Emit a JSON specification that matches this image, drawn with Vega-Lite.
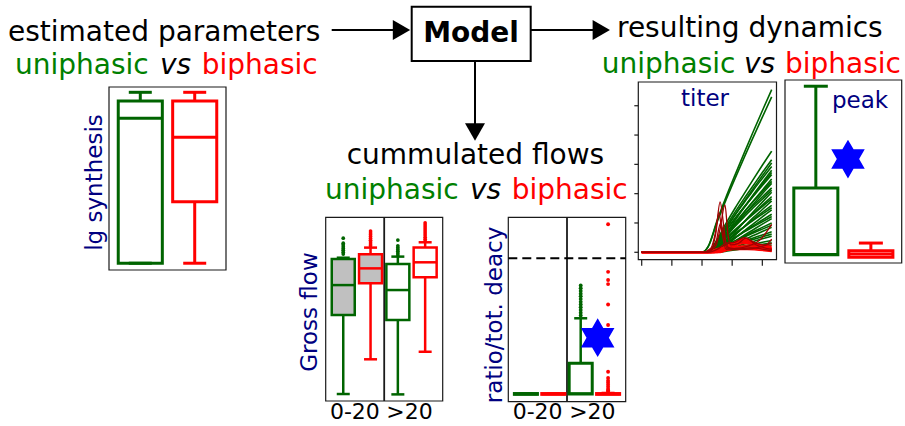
{
"$schema":"https://vega.github.io/schema/vega-lite/v6.json",
"width":905,"height":426,"padding":0,"autosize":{"type":"none"},
"background":"white",
"config":{"view":{"stroke":null},"font":"DejaVu Sans"},
"datasets":{
"diagram_text":[
{"text":"estimated parameters","role":"heading","x":8,"y":40.5},
{"text":"uniphasic","role":"uniphasic","x":15,"y":73.5},
{"text":"vs","role":"vs","x":160,"y":73.5},
{"text":"biphasic","role":"biphasic","x":201.7,"y":73.5},
{"text":"Model","role":"model","x":471,"y":41.7},
{"text":"resulting dynamics","role":"heading","x":617,"y":37},
{"text":"uniphasic","role":"uniphasic","x":601.7,"y":72.5},
{"text":"vs","role":"vs","x":744,"y":72.5},
{"text":"biphasic","role":"biphasic","x":785,"y":72.5},
{"text":"cummulated flows","role":"heading","x":346.7,"y":163.5},
{"text":"uniphasic","role":"uniphasic","x":325,"y":199},
{"text":"vs","role":"vs","x":470,"y":199},
{"text":"biphasic","role":"biphasic","x":511.7,"y":199},
{"text":"titer","role":"panel-title","x":705,"y":106},
{"text":"peak","role":"panel-title","x":860,"y":108},
{"text":"lg synthesis","role":"axis-title","x":102,"y":182.5},
{"text":"Gross flow","role":"axis-title","x":316.5,"y":312},
{"text":"ratio/tot. deacy","role":"axis-title","x":502,"y":315}
],
"diagram_box":[{"node":"Model","x":411.7,"x2":530.7,"y":6.7,"y2":61}],
"arrows":[
{"from":"estimated parameters","to":"Model","x":331.7,"y":30,"x2":394,"y2":30},
{"from":"Model","to":"resulting dynamics","x":531,"y":30,"x2":594,"y2":30},
{"from":"Model","to":"cummulated flows","x":475,"y":61,"x2":475,"y2":125}
],
"arrowheads":[
{"dir":"right","x":401.5,"y":30},
{"dir":"right","x":601.3,"y":30},
{"dir":"down","x":475,"y":132}
],
"frame":[{"frame":"panel"}],
"lg":[
{"series":"uniphasic","lower":0.37,"q1":0.37,"median":8.29,"q3":9.23,"upper":9.71},
{"series":"biphasic","lower":0.37,"q1":3.73,"median":7.25,"q3":9.23,"upper":9.71}
],
"gross":[
{"group":"0-20","series":"uniphasic","lower":0.38,"q1":4.68,"median":6.31,"q3":7.73,"upper":7.8},
{"group":"0-20","series":"biphasic","lower":2.27,"q1":6.41,"median":7.22,"q3":7.99,"upper":8.35},
{"group":">20","series":"uniphasic","lower":0.36,"q1":4.41,"median":6.04,"q3":7.46,"upper":7.86},
{"group":">20","series":"biphasic","lower":2.68,"q1":6.73,"median":7.55,"q3":8.35,"upper":8.64}
],
"gross_out":[
{"group":"0-20","series":"uniphasic","value":8.86},{"group":"0-20","series":"uniphasic","value":8.59},{"group":"0-20","series":"uniphasic","value":8.5},{"group":"0-20","series":"uniphasic","value":8.4},{"group":"0-20","series":"uniphasic","value":8.3},{"group":"0-20","series":"uniphasic","value":8.2},{"group":"0-20","series":"uniphasic","value":8.1},{"group":"0-20","series":"uniphasic","value":8.0},
{"group":"0-20","series":"biphasic","value":9.25},{"group":"0-20","series":"biphasic","value":9.15},{"group":"0-20","series":"biphasic","value":9.05},{"group":"0-20","series":"biphasic","value":8.95},{"group":"0-20","series":"biphasic","value":8.85},{"group":"0-20","series":"biphasic","value":8.75},{"group":"0-20","series":"biphasic","value":8.65},{"group":"0-20","series":"biphasic","value":8.55},{"group":"0-20","series":"biphasic","value":8.45},
{"group":">20","series":"uniphasic","value":8.76},{"group":">20","series":"uniphasic","value":8.45},{"group":">20","series":"uniphasic","value":8.35},{"group":">20","series":"uniphasic","value":8.25},{"group":">20","series":"uniphasic","value":8.15},{"group":">20","series":"uniphasic","value":8.05},{"group":">20","series":"uniphasic","value":7.95},
{"group":">20","series":"biphasic","value":9.69},{"group":">20","series":"biphasic","value":9.58},{"group":">20","series":"biphasic","value":9.47},{"group":">20","series":"biphasic","value":9.36},{"group":">20","series":"biphasic","value":9.25},{"group":">20","series":"biphasic","value":9.14},{"group":">20","series":"biphasic","value":9.03},{"group":">20","series":"biphasic","value":8.92},{"group":">20","series":"biphasic","value":8.81},{"group":">20","series":"biphasic","value":8.7}
],
"groups":[{"group":"0-20"},{"group":">20"}],
"ratio":[
{"group":"0-20","series":"uniphasic","lower":0,"q1":0,"median":0.002,"q3":0.006,"upper":0.006},
{"group":"0-20","series":"biphasic","lower":0,"q1":0,"median":0.002,"q3":0.006,"upper":0.006},
{"group":">20","series":"uniphasic","lower":0,"q1":0.003,"median":0.006,"q3":0.228,"upper":0.559},
{"group":">20","series":"biphasic","lower":0,"q1":0,"median":0.002,"q3":0.006,"upper":0.01}
],
"ratio_out":[
{"group":">20","series":"uniphasic","value":0.80},{"group":">20","series":"uniphasic","value":0.78},{"group":">20","series":"uniphasic","value":0.76},{"group":">20","series":"uniphasic","value":0.74},{"group":">20","series":"uniphasic","value":0.72},{"group":">20","series":"uniphasic","value":0.70},{"group":">20","series":"uniphasic","value":0.68},{"group":">20","series":"uniphasic","value":0.66},{"group":">20","series":"uniphasic","value":0.64},{"group":">20","series":"uniphasic","value":0.62},{"group":">20","series":"uniphasic","value":0.60},{"group":">20","series":"uniphasic","value":0.58},
{"group":">20","series":"biphasic","value":1.25},{"group":">20","series":"biphasic","value":0.90},{"group":">20","series":"biphasic","value":0.84},{"group":">20","series":"biphasic","value":0.81},{"group":">20","series":"biphasic","value":0.66},{"group":">20","series":"biphasic","value":0.51},{"group":">20","series":"biphasic","value":0.166},{"group":">20","series":"biphasic","value":0.12},{"group":">20","series":"biphasic","value":0.10},{"group":">20","series":"biphasic","value":0.085},{"group":">20","series":"biphasic","value":0.07},{"group":">20","series":"biphasic","value":0.055},{"group":">20","series":"biphasic","value":0.04},{"group":">20","series":"biphasic","value":0.03},{"group":">20","series":"biphasic","value":0.02},{"group":">20","series":"biphasic","value":0.01}
],
"ratio_star":[{"group":">20","ratio":0.416}],
"peak":[
{"series":"uniphasic","lower":0.45,"q1":0.45,"median":0.47,"q3":4.1,"upper":9.66},
{"series":"biphasic","lower":0.31,"q1":0.31,"median":0.49,"q3":0.67,"upper":1.09}
],
"peak_star":[{"series":"uniphasic","peak":5.68}],
"titer_yticks":[{"v":0},{"v":1},{"v":2},{"v":3},{"v":4},{"v":5}],
"titer_xticks":[{"v":0},{"v":1},{"v":2},{"v":3},{"v":4}],
"titer":[
{"sim":"u01","kind":"uniphasic","t":0,"titer":0},{"sim":"u01","kind":"uniphasic","t":2,"titer":0},{"sim":"u01","kind":"uniphasic","t":2.2,"titer":0.19},{"sim":"u01","kind":"uniphasic","t":2.5,"titer":1.08},{"sim":"u01","kind":"uniphasic","t":2.8,"titer":1.89},{"sim":"u01","kind":"uniphasic","t":3.1,"titer":2.65},{"sim":"u01","kind":"uniphasic","t":3.4,"titer":3.39},{"sim":"u01","kind":"uniphasic","t":3.7,"titer":4.12},{"sim":"u01","kind":"uniphasic","t":4,"titer":4.83},{"sim":"u01","kind":"uniphasic","t":4.31,"titer":5.55},
{"sim":"u02","kind":"uniphasic","t":0,"titer":0},{"sim":"u02","kind":"uniphasic","t":2,"titer":0},{"sim":"u02","kind":"uniphasic","t":2.2,"titer":0.18},{"sim":"u02","kind":"uniphasic","t":2.5,"titer":1.03},{"sim":"u02","kind":"uniphasic","t":2.8,"titer":1.8},{"sim":"u02","kind":"uniphasic","t":3.1,"titer":2.53},{"sim":"u02","kind":"uniphasic","t":3.4,"titer":3.24},{"sim":"u02","kind":"uniphasic","t":3.7,"titer":3.93},{"sim":"u02","kind":"uniphasic","t":4,"titer":4.61},{"sim":"u02","kind":"uniphasic","t":4.31,"titer":5.3},
{"sim":"u03","kind":"uniphasic","t":0,"titer":0},{"sim":"u03","kind":"uniphasic","t":2.2,"titer":0},{"sim":"u03","kind":"uniphasic","t":2.5,"titer":0.43},{"sim":"u03","kind":"uniphasic","t":2.8,"titer":0.99},{"sim":"u03","kind":"uniphasic","t":3.1,"titer":1.51},{"sim":"u03","kind":"uniphasic","t":3.4,"titer":2.0},{"sim":"u03","kind":"uniphasic","t":3.7,"titer":2.49},{"sim":"u03","kind":"uniphasic","t":4,"titer":2.97},{"sim":"u03","kind":"uniphasic","t":4.31,"titer":3.45},
{"sim":"u04","kind":"uniphasic","t":0,"titer":0},{"sim":"u04","kind":"uniphasic","t":2.2,"titer":0},{"sim":"u04","kind":"uniphasic","t":2.5,"titer":0.4},{"sim":"u04","kind":"uniphasic","t":2.8,"titer":0.9},{"sim":"u04","kind":"uniphasic","t":3.1,"titer":1.38},{"sim":"u04","kind":"uniphasic","t":3.4,"titer":1.84},{"sim":"u04","kind":"uniphasic","t":3.7,"titer":2.28},{"sim":"u04","kind":"uniphasic","t":4,"titer":2.72},{"sim":"u04","kind":"uniphasic","t":4.31,"titer":3.16},
{"sim":"u05","kind":"uniphasic","t":0,"titer":0},{"sim":"u05","kind":"uniphasic","t":2.2,"titer":0},{"sim":"u05","kind":"uniphasic","t":2.5,"titer":0.37},{"sim":"u05","kind":"uniphasic","t":2.8,"titer":0.84},{"sim":"u05","kind":"uniphasic","t":3.1,"titer":1.28},{"sim":"u05","kind":"uniphasic","t":3.4,"titer":1.7},{"sim":"u05","kind":"uniphasic","t":3.7,"titer":2.12},{"sim":"u05","kind":"uniphasic","t":4,"titer":2.52},{"sim":"u05","kind":"uniphasic","t":4.31,"titer":2.93},
{"sim":"u06","kind":"uniphasic","t":0,"titer":0},{"sim":"u06","kind":"uniphasic","t":2.2,"titer":0},{"sim":"u06","kind":"uniphasic","t":2.5,"titer":0.11},{"sim":"u06","kind":"uniphasic","t":2.8,"titer":0.62},{"sim":"u06","kind":"uniphasic","t":3.1,"titer":1.09},{"sim":"u06","kind":"uniphasic","t":3.4,"titer":1.53},{"sim":"u06","kind":"uniphasic","t":3.7,"titer":1.96},{"sim":"u06","kind":"uniphasic","t":4,"titer":2.38},{"sim":"u06","kind":"uniphasic","t":4.31,"titer":2.8},
{"sim":"u07","kind":"uniphasic","t":0,"titer":0},{"sim":"u07","kind":"uniphasic","t":2.2,"titer":0},{"sim":"u07","kind":"uniphasic","t":2.5,"titer":0.33},{"sim":"u07","kind":"uniphasic","t":2.8,"titer":0.76},{"sim":"u07","kind":"uniphasic","t":3.1,"titer":1.16},{"sim":"u07","kind":"uniphasic","t":3.4,"titer":1.54},{"sim":"u07","kind":"uniphasic","t":3.7,"titer":1.91},{"sim":"u07","kind":"uniphasic","t":4,"titer":2.28},{"sim":"u07","kind":"uniphasic","t":4.31,"titer":2.65},
{"sim":"u08","kind":"uniphasic","t":0,"titer":0},{"sim":"u08","kind":"uniphasic","t":2.2,"titer":0},{"sim":"u08","kind":"uniphasic","t":2.5,"titer":0.1},{"sim":"u08","kind":"uniphasic","t":2.8,"titer":0.56},{"sim":"u08","kind":"uniphasic","t":3.1,"titer":0.97},{"sim":"u08","kind":"uniphasic","t":3.4,"titer":1.37},{"sim":"u08","kind":"uniphasic","t":3.7,"titer":1.75},{"sim":"u08","kind":"uniphasic","t":4,"titer":2.12},{"sim":"u08","kind":"uniphasic","t":4.31,"titer":2.5},
{"sim":"u09","kind":"uniphasic","t":0,"titer":0},{"sim":"u09","kind":"uniphasic","t":2.2,"titer":0},{"sim":"u09","kind":"uniphasic","t":2.5,"titer":0.09},{"sim":"u09","kind":"uniphasic","t":2.8,"titer":0.52},{"sim":"u09","kind":"uniphasic","t":3.1,"titer":0.91},{"sim":"u09","kind":"uniphasic","t":3.4,"titer":1.28},{"sim":"u09","kind":"uniphasic","t":3.7,"titer":1.64},{"sim":"u09","kind":"uniphasic","t":4,"titer":2.0},{"sim":"u09","kind":"uniphasic","t":4.31,"titer":2.35},
{"sim":"u10","kind":"uniphasic","t":0,"titer":0},{"sim":"u10","kind":"uniphasic","t":2.2,"titer":0},{"sim":"u10","kind":"uniphasic","t":2.5,"titer":0.28},{"sim":"u10","kind":"uniphasic","t":2.8,"titer":0.63},{"sim":"u10","kind":"uniphasic","t":3.1,"titer":0.96},{"sim":"u10","kind":"uniphasic","t":3.4,"titer":1.28},{"sim":"u10","kind":"uniphasic","t":3.7,"titer":1.59},{"sim":"u10","kind":"uniphasic","t":4,"titer":1.89},{"sim":"u10","kind":"uniphasic","t":4.31,"titer":2.2},
{"sim":"u11","kind":"uniphasic","t":0,"titer":0},{"sim":"u11","kind":"uniphasic","t":2.5,"titer":0},{"sim":"u11","kind":"uniphasic","t":2.8,"titer":0.3},{"sim":"u11","kind":"uniphasic","t":3.1,"titer":0.68},{"sim":"u11","kind":"uniphasic","t":3.4,"titer":1.04},{"sim":"u11","kind":"uniphasic","t":3.7,"titer":1.38},{"sim":"u11","kind":"uniphasic","t":4,"titer":1.71},{"sim":"u11","kind":"uniphasic","t":4.31,"titer":2.05},
{"sim":"u12","kind":"uniphasic","t":0,"titer":0},{"sim":"u12","kind":"uniphasic","t":2.2,"titer":0},{"sim":"u12","kind":"uniphasic","t":2.5,"titer":0.07},{"sim":"u12","kind":"uniphasic","t":2.8,"titer":0.42},{"sim":"u12","kind":"uniphasic","t":3.1,"titer":0.74},{"sim":"u12","kind":"uniphasic","t":3.4,"titer":1.04},{"sim":"u12","kind":"uniphasic","t":3.7,"titer":1.33},{"sim":"u12","kind":"uniphasic","t":4,"titer":1.61},{"sim":"u12","kind":"uniphasic","t":4.31,"titer":1.9},
{"sim":"u13","kind":"uniphasic","t":0,"titer":0},{"sim":"u13","kind":"uniphasic","t":2.5,"titer":0},{"sim":"u13","kind":"uniphasic","t":2.8,"titer":0.25},{"sim":"u13","kind":"uniphasic","t":3.1,"titer":0.58},{"sim":"u13","kind":"uniphasic","t":3.4,"titer":0.88},{"sim":"u13","kind":"uniphasic","t":3.7,"titer":1.18},{"sim":"u13","kind":"uniphasic","t":4,"titer":1.46},{"sim":"u13","kind":"uniphasic","t":4.31,"titer":1.75},
{"sim":"u14","kind":"uniphasic","t":0,"titer":0},{"sim":"u14","kind":"uniphasic","t":2.2,"titer":0},{"sim":"u14","kind":"uniphasic","t":2.5,"titer":0.06},{"sim":"u14","kind":"uniphasic","t":2.8,"titer":0.36},{"sim":"u14","kind":"uniphasic","t":3.1,"titer":0.62},{"sim":"u14","kind":"uniphasic","t":3.4,"titer":0.87},{"sim":"u14","kind":"uniphasic","t":3.7,"titer":1.12},{"sim":"u14","kind":"uniphasic","t":4,"titer":1.36},{"sim":"u14","kind":"uniphasic","t":4.31,"titer":1.6},
{"sim":"u15","kind":"uniphasic","t":0,"titer":0},{"sim":"u15","kind":"uniphasic","t":2.5,"titer":0},{"sim":"u15","kind":"uniphasic","t":2.8,"titer":0.21},{"sim":"u15","kind":"uniphasic","t":3.1,"titer":0.48},{"sim":"u15","kind":"uniphasic","t":3.4,"titer":0.73},{"sim":"u15","kind":"uniphasic","t":3.7,"titer":0.97},{"sim":"u15","kind":"uniphasic","t":4,"titer":1.21},{"sim":"u15","kind":"uniphasic","t":4.31,"titer":1.45},
{"sim":"u16","kind":"uniphasic","t":0,"titer":0},{"sim":"u16","kind":"uniphasic","t":2.2,"titer":0},{"sim":"u16","kind":"uniphasic","t":2.5,"titer":0.05},{"sim":"u16","kind":"uniphasic","t":2.8,"titer":0.29},{"sim":"u16","kind":"uniphasic","t":3.1,"titer":0.5},{"sim":"u16","kind":"uniphasic","t":3.4,"titer":0.71},{"sim":"u16","kind":"uniphasic","t":3.7,"titer":0.91},{"sim":"u16","kind":"uniphasic","t":4,"titer":1.1},{"sim":"u16","kind":"uniphasic","t":4.31,"titer":1.3},
{"sim":"u17","kind":"uniphasic","t":0,"titer":0},{"sim":"u17","kind":"uniphasic","t":2.5,"titer":0},{"sim":"u17","kind":"uniphasic","t":2.8,"titer":0.17},{"sim":"u17","kind":"uniphasic","t":3.1,"titer":0.38},{"sim":"u17","kind":"uniphasic","t":3.4,"titer":0.58},{"sim":"u17","kind":"uniphasic","t":3.7,"titer":0.77},{"sim":"u17","kind":"uniphasic","t":4,"titer":0.96},{"sim":"u17","kind":"uniphasic","t":4.31,"titer":1.15},
{"sim":"u18","kind":"uniphasic","t":0,"titer":0},{"sim":"u18","kind":"uniphasic","t":2.2,"titer":0},{"sim":"u18","kind":"uniphasic","t":2.5,"titer":0.04},{"sim":"u18","kind":"uniphasic","t":2.8,"titer":0.22},{"sim":"u18","kind":"uniphasic","t":3.1,"titer":0.39},{"sim":"u18","kind":"uniphasic","t":3.4,"titer":0.55},{"sim":"u18","kind":"uniphasic","t":3.7,"titer":0.7},{"sim":"u18","kind":"uniphasic","t":4,"titer":0.85},{"sim":"u18","kind":"uniphasic","t":4.31,"titer":1.0},
{"sim":"u19","kind":"uniphasic","t":0,"titer":0},{"sim":"u19","kind":"uniphasic","t":2.5,"titer":0},{"sim":"u19","kind":"uniphasic","t":2.8,"titer":0.12},{"sim":"u19","kind":"uniphasic","t":3.1,"titer":0.28},{"sim":"u19","kind":"uniphasic","t":3.4,"titer":0.43},{"sim":"u19","kind":"uniphasic","t":3.7,"titer":0.57},{"sim":"u19","kind":"uniphasic","t":4,"titer":0.71},{"sim":"u19","kind":"uniphasic","t":4.31,"titer":0.85},
{"sim":"u20","kind":"uniphasic","t":0,"titer":0},{"sim":"u20","kind":"uniphasic","t":2.2,"titer":0},{"sim":"u20","kind":"uniphasic","t":2.5,"titer":0.03},{"sim":"u20","kind":"uniphasic","t":2.8,"titer":0.16},{"sim":"u20","kind":"uniphasic","t":3.1,"titer":0.27},{"sim":"u20","kind":"uniphasic","t":3.4,"titer":0.38},{"sim":"u20","kind":"uniphasic","t":3.7,"titer":0.49},{"sim":"u20","kind":"uniphasic","t":4,"titer":0.59},{"sim":"u20","kind":"uniphasic","t":4.31,"titer":0.7},
{"sim":"u21","kind":"uniphasic","t":0,"titer":0},{"sim":"u21","kind":"uniphasic","t":2.5,"titer":0},{"sim":"u21","kind":"uniphasic","t":2.8,"titer":0.08},{"sim":"u21","kind":"uniphasic","t":3.1,"titer":0.18},{"sim":"u21","kind":"uniphasic","t":3.4,"titer":0.28},{"sim":"u21","kind":"uniphasic","t":3.7,"titer":0.37},{"sim":"u21","kind":"uniphasic","t":4,"titer":0.46},{"sim":"u21","kind":"uniphasic","t":4.31,"titer":0.55},
{"sim":"u22","kind":"uniphasic","t":0,"titer":0},{"sim":"u22","kind":"uniphasic","t":2.2,"titer":0},{"sim":"u22","kind":"uniphasic","t":2.5,"titer":0.02},{"sim":"u22","kind":"uniphasic","t":2.8,"titer":0.09},{"sim":"u22","kind":"uniphasic","t":3.1,"titer":0.16},{"sim":"u22","kind":"uniphasic","t":3.4,"titer":0.22},{"sim":"u22","kind":"uniphasic","t":3.7,"titer":0.28},{"sim":"u22","kind":"uniphasic","t":4,"titer":0.34},{"sim":"u22","kind":"uniphasic","t":4.31,"titer":0.4},
{"sim":"u23","kind":"uniphasic","t":0,"titer":0},{"sim":"u23","kind":"uniphasic","t":2.5,"titer":0},{"sim":"u23","kind":"uniphasic","t":2.8,"titer":0.04},{"sim":"u23","kind":"uniphasic","t":3.1,"titer":0.08},{"sim":"u23","kind":"uniphasic","t":3.4,"titer":0.13},{"sim":"u23","kind":"uniphasic","t":3.7,"titer":0.17},{"sim":"u23","kind":"uniphasic","t":4,"titer":0.21},{"sim":"u23","kind":"uniphasic","t":4.31,"titer":0.25},
{"sim":"v01","kind":"uniphasic","t":0,"titer":0},{"sim":"v01","kind":"uniphasic","t":2.35,"titer":0},{"sim":"v01","kind":"uniphasic","t":2.5,"titer":0.3},{"sim":"v01","kind":"uniphasic","t":2.8,"titer":0.81},{"sim":"v01","kind":"uniphasic","t":3.1,"titer":1.28},{"sim":"v01","kind":"uniphasic","t":3.4,"titer":1.74},{"sim":"v01","kind":"uniphasic","t":3.7,"titer":2.18},{"sim":"v01","kind":"uniphasic","t":4,"titer":2.61},{"sim":"v01","kind":"uniphasic","t":4.31,"titer":3.05},
{"sim":"v02","kind":"uniphasic","t":0,"titer":0},{"sim":"v02","kind":"uniphasic","t":2.35,"titer":0},{"sim":"v02","kind":"uniphasic","t":2.5,"titer":0.27},{"sim":"v02","kind":"uniphasic","t":2.8,"titer":0.72},{"sim":"v02","kind":"uniphasic","t":3.1,"titer":1.15},{"sim":"v02","kind":"uniphasic","t":3.4,"titer":1.55},{"sim":"v02","kind":"uniphasic","t":3.7,"titer":1.94},{"sim":"v02","kind":"uniphasic","t":4,"titer":2.33},{"sim":"v02","kind":"uniphasic","t":4.31,"titer":2.72},
{"sim":"v03","kind":"uniphasic","t":0,"titer":0},{"sim":"v03","kind":"uniphasic","t":2.35,"titer":0},{"sim":"v03","kind":"uniphasic","t":2.5,"titer":0.24},{"sim":"v03","kind":"uniphasic","t":2.8,"titer":0.64},{"sim":"v03","kind":"uniphasic","t":3.1,"titer":1.02},{"sim":"v03","kind":"uniphasic","t":3.4,"titer":1.38},{"sim":"v03","kind":"uniphasic","t":3.7,"titer":1.73},{"sim":"v03","kind":"uniphasic","t":4,"titer":2.07},{"sim":"v03","kind":"uniphasic","t":4.31,"titer":2.42},
{"sim":"v04","kind":"uniphasic","t":0,"titer":0},{"sim":"v04","kind":"uniphasic","t":2.35,"titer":0},{"sim":"v04","kind":"uniphasic","t":2.5,"titer":0.21},{"sim":"v04","kind":"uniphasic","t":2.8,"titer":0.56},{"sim":"v04","kind":"uniphasic","t":3.1,"titer":0.89},{"sim":"v04","kind":"uniphasic","t":3.4,"titer":1.21},{"sim":"v04","kind":"uniphasic","t":3.7,"titer":1.52},{"sim":"v04","kind":"uniphasic","t":4,"titer":1.81},{"sim":"v04","kind":"uniphasic","t":4.31,"titer":2.12},
{"sim":"v05","kind":"uniphasic","t":0,"titer":0},{"sim":"v05","kind":"uniphasic","t":2.35,"titer":0},{"sim":"v05","kind":"uniphasic","t":2.5,"titer":0.18},{"sim":"v05","kind":"uniphasic","t":2.8,"titer":0.48},{"sim":"v05","kind":"uniphasic","t":3.1,"titer":0.77},{"sim":"v05","kind":"uniphasic","t":3.4,"titer":1.04},{"sim":"v05","kind":"uniphasic","t":3.7,"titer":1.3},{"sim":"v05","kind":"uniphasic","t":4,"titer":1.56},{"sim":"v05","kind":"uniphasic","t":4.31,"titer":1.82},
{"sim":"v06","kind":"uniphasic","t":0,"titer":0},{"sim":"v06","kind":"uniphasic","t":2.35,"titer":0},{"sim":"v06","kind":"uniphasic","t":2.5,"titer":0.15},{"sim":"v06","kind":"uniphasic","t":2.8,"titer":0.4},{"sim":"v06","kind":"uniphasic","t":3.1,"titer":0.64},{"sim":"v06","kind":"uniphasic","t":3.4,"titer":0.87},{"sim":"v06","kind":"uniphasic","t":3.7,"titer":1.09},{"sim":"v06","kind":"uniphasic","t":4,"titer":1.3},{"sim":"v06","kind":"uniphasic","t":4.31,"titer":1.52},
{"sim":"v07","kind":"uniphasic","t":0,"titer":0},{"sim":"v07","kind":"uniphasic","t":2.35,"titer":0},{"sim":"v07","kind":"uniphasic","t":2.5,"titer":0.12},{"sim":"v07","kind":"uniphasic","t":2.8,"titer":0.32},{"sim":"v07","kind":"uniphasic","t":3.1,"titer":0.51},{"sim":"v07","kind":"uniphasic","t":3.4,"titer":0.7},{"sim":"v07","kind":"uniphasic","t":3.7,"titer":0.87},{"sim":"v07","kind":"uniphasic","t":4,"titer":1.04},{"sim":"v07","kind":"uniphasic","t":4.31,"titer":1.22},
{"sim":"v08","kind":"uniphasic","t":0,"titer":0},{"sim":"v08","kind":"uniphasic","t":2.35,"titer":0},{"sim":"v08","kind":"uniphasic","t":2.5,"titer":0.09},{"sim":"v08","kind":"uniphasic","t":2.8,"titer":0.24},{"sim":"v08","kind":"uniphasic","t":3.1,"titer":0.39},{"sim":"v08","kind":"uniphasic","t":3.4,"titer":0.52},{"sim":"v08","kind":"uniphasic","t":3.7,"titer":0.66},{"sim":"v08","kind":"uniphasic","t":4,"titer":0.79},{"sim":"v08","kind":"uniphasic","t":4.31,"titer":0.92},
{"sim":"v09","kind":"uniphasic","t":0,"titer":0},{"sim":"v09","kind":"uniphasic","t":2.35,"titer":0},{"sim":"v09","kind":"uniphasic","t":2.5,"titer":0.06},{"sim":"v09","kind":"uniphasic","t":2.8,"titer":0.16},{"sim":"v09","kind":"uniphasic","t":3.1,"titer":0.26},{"sim":"v09","kind":"uniphasic","t":3.4,"titer":0.35},{"sim":"v09","kind":"uniphasic","t":3.7,"titer":0.44},{"sim":"v09","kind":"uniphasic","t":4,"titer":0.53},{"sim":"v09","kind":"uniphasic","t":4.31,"titer":0.62},
{"sim":"v10","kind":"uniphasic","t":0,"titer":0},{"sim":"v10","kind":"uniphasic","t":2.35,"titer":0},{"sim":"v10","kind":"uniphasic","t":2.5,"titer":0.03},{"sim":"v10","kind":"uniphasic","t":2.8,"titer":0.09},{"sim":"v10","kind":"uniphasic","t":3.1,"titer":0.13},{"sim":"v10","kind":"uniphasic","t":3.4,"titer":0.18},{"sim":"v10","kind":"uniphasic","t":3.7,"titer":0.23},{"sim":"v10","kind":"uniphasic","t":4,"titer":0.27},{"sim":"v10","kind":"uniphasic","t":4.31,"titer":0.32},
{"sim":"b1","kind":"biphasic","t":0,"titer":0},{"sim":"b1","kind":"biphasic","t":2.3,"titer":0},{"sim":"b1","kind":"biphasic","t":2.6,"titer":0.1},{"sim":"b1","kind":"biphasic","t":3.0,"titer":0.3},{"sim":"b1","kind":"biphasic","t":3.4,"titer":0.45},{"sim":"b1","kind":"biphasic","t":3.8,"titer":0.3},{"sim":"b1","kind":"biphasic","t":4.31,"titer":0.15},
{"sim":"b2","kind":"biphasic","t":0,"titer":0},{"sim":"b2","kind":"biphasic","t":2.4,"titer":0},{"sim":"b2","kind":"biphasic","t":2.7,"titer":0.15},{"sim":"b2","kind":"biphasic","t":3.1,"titer":0.32},{"sim":"b2","kind":"biphasic","t":3.5,"titer":0.38},{"sim":"b2","kind":"biphasic","t":3.9,"titer":0.25},{"sim":"b2","kind":"biphasic","t":4.31,"titer":0.1},
{"sim":"b3","kind":"biphasic","t":0,"titer":0},{"sim":"b3","kind":"biphasic","t":2.2,"titer":0},{"sim":"b3","kind":"biphasic","t":2.5,"titer":0.12},{"sim":"b3","kind":"biphasic","t":2.9,"titer":0.2},{"sim":"b3","kind":"biphasic","t":3.3,"titer":0.3},{"sim":"b3","kind":"biphasic","t":3.7,"titer":0.28},{"sim":"b3","kind":"biphasic","t":4.31,"titer":0.2},
{"sim":"b4","kind":"biphasic","t":0,"titer":0},{"sim":"b4","kind":"biphasic","t":2.3,"titer":0},{"sim":"b4","kind":"biphasic","t":2.8,"titer":0.1},{"sim":"b4","kind":"biphasic","t":3.2,"titer":0.2},{"sim":"b4","kind":"biphasic","t":3.6,"titer":0.22},{"sim":"b4","kind":"biphasic","t":4.0,"titer":0.15},{"sim":"b4","kind":"biphasic","t":4.31,"titer":0.08},
{"sim":"b5","kind":"biphasic","t":0,"titer":0},{"sim":"b5","kind":"biphasic","t":2.5,"titer":0},{"sim":"b5","kind":"biphasic","t":2.9,"titer":0.08},{"sim":"b5","kind":"biphasic","t":3.3,"titer":0.15},{"sim":"b5","kind":"biphasic","t":3.7,"titer":0.14},{"sim":"b5","kind":"biphasic","t":4.31,"titer":0.05},
{"sim":"b6","kind":"biphasic","t":0,"titer":0},{"sim":"b6","kind":"biphasic","t":2.2,"titer":0},{"sim":"b6","kind":"biphasic","t":2.6,"titer":0.05},{"sim":"b6","kind":"biphasic","t":3.0,"titer":0.1},{"sim":"b6","kind":"biphasic","t":3.5,"titer":0.1},{"sim":"b6","kind":"biphasic","t":4.31,"titer":0.03},
{"sim":"b7","kind":"biphasic","t":0,"titer":0},{"sim":"b7","kind":"biphasic","t":2.4,"titer":0},{"sim":"b7","kind":"biphasic","t":2.9,"titer":0.25},{"sim":"b7","kind":"biphasic","t":3.3,"titer":0.4},{"sim":"b7","kind":"biphasic","t":3.6,"titer":0.35},{"sim":"b7","kind":"biphasic","t":4.0,"titer":0.2},{"sim":"b7","kind":"biphasic","t":4.31,"titer":0.12},
{"sim":"b8","kind":"biphasic","t":0,"titer":0},{"sim":"b8","kind":"biphasic","t":2.6,"titer":0},{"sim":"b8","kind":"biphasic","t":3.0,"titer":0.18},{"sim":"b8","kind":"biphasic","t":3.45,"titer":0.33},{"sim":"b8","kind":"biphasic","t":3.9,"titer":0.2},{"sim":"b8","kind":"biphasic","t":4.31,"titer":0.1},
{"sim":"r1","kind":"biphasic peaked","t":0,"titer":0},{"sim":"r1","kind":"biphasic peaked","t":2.0,"titer":0},{"sim":"r1","kind":"biphasic peaked","t":2.3,"titer":0.1},{"sim":"r1","kind":"biphasic peaked","t":2.45,"titer":0.6},{"sim":"r1","kind":"biphasic peaked","t":2.6,"titer":1.72},{"sim":"r1","kind":"biphasic peaked","t":2.72,"titer":0.9},{"sim":"r1","kind":"biphasic peaked","t":2.82,"titer":0.15},{"sim":"r1","kind":"biphasic peaked","t":3.1,"titer":0.1},{"sim":"r1","kind":"biphasic peaked","t":3.6,"titer":0.15},{"sim":"r1","kind":"biphasic peaked","t":4.31,"titer":0.05},
{"sim":"r2","kind":"biphasic peaked","t":0,"titer":0},{"sim":"r2","kind":"biphasic peaked","t":2.1,"titer":0},{"sim":"r2","kind":"biphasic peaked","t":2.45,"titer":0.2},{"sim":"r2","kind":"biphasic peaked","t":2.6,"titer":0.8},{"sim":"r2","kind":"biphasic peaked","t":2.76,"titer":1.62},{"sim":"r2","kind":"biphasic peaked","t":2.86,"titer":0.6},{"sim":"r2","kind":"biphasic peaked","t":2.95,"titer":0.25},{"sim":"r2","kind":"biphasic peaked","t":3.2,"titer":0.3},{"sim":"r2","kind":"biphasic peaked","t":3.45,"titer":0.48},{"sim":"r2","kind":"biphasic peaked","t":3.8,"titer":0.25},{"sim":"r2","kind":"biphasic peaked","t":4.31,"titer":0.1},
{"sim":"r3","kind":"biphasic peaked","t":0,"titer":0},{"sim":"r3","kind":"biphasic peaked","t":2.0,"titer":0},{"sim":"r3","kind":"biphasic peaked","t":2.3,"titer":0.15},{"sim":"r3","kind":"biphasic peaked","t":2.45,"titer":0.7},{"sim":"r3","kind":"biphasic peaked","t":2.56,"titer":1.35},{"sim":"r3","kind":"biphasic peaked","t":2.66,"titer":0.7},{"sim":"r3","kind":"biphasic peaked","t":2.8,"titer":0.1},{"sim":"r3","kind":"biphasic peaked","t":3.3,"titer":0.15},{"sim":"r3","kind":"biphasic peaked","t":3.9,"titer":0.4},{"sim":"r3","kind":"biphasic peaked","t":4.31,"titer":0.95},
{"sim":"r4","kind":"biphasic peaked","t":0,"titer":0},{"sim":"r4","kind":"biphasic peaked","t":2.2,"titer":0},{"sim":"r4","kind":"biphasic peaked","t":2.5,"titer":0.1},{"sim":"r4","kind":"biphasic peaked","t":2.8,"titer":0.3},{"sim":"r4","kind":"biphasic peaked","t":3.1,"titer":0.35},{"sim":"r4","kind":"biphasic peaked","t":3.4,"titer":0.5},{"sim":"r4","kind":"biphasic peaked","t":3.8,"titer":0.3},{"sim":"r4","kind":"biphasic peaked","t":4.1,"titer":0.25},{"sim":"r4","kind":"biphasic peaked","t":4.31,"titer":0.45},
{"sim":"r5","kind":"biphasic peaked","t":0,"titer":0},{"sim":"r5","kind":"biphasic peaked","t":2.2,"titer":0},{"sim":"r5","kind":"biphasic peaked","t":2.45,"titer":0.3},{"sim":"r5","kind":"biphasic peaked","t":2.62,"titer":1.0},{"sim":"r5","kind":"biphasic peaked","t":2.75,"titer":0.45},{"sim":"r5","kind":"biphasic peaked","t":2.9,"titer":0.15},{"sim":"r5","kind":"biphasic peaked","t":3.4,"titer":0.1},{"sim":"r5","kind":"biphasic peaked","t":4.31,"titer":0.3}
]
},
"layer":[
{"data":{"name":"diagram_box"},"mark":{"type":"rect","fill":"white","stroke":"black","strokeWidth":2},
 "encoding":{"x":{"field":"x","type":"quantitative","scale":{"domain":[0,905],"range":[0,905],"nice":false,"zero":false},"axis":null},"x2":{"field":"x2"},
 "y":{"field":"y","type":"quantitative","scale":{"domain":[0,426],"range":[0,426],"nice":false,"zero":false},"axis":null},"y2":{"field":"y2"}}},
{"data":{"name":"arrows"},"mark":{"type":"rule","color":"black","strokeWidth":2},
 "encoding":{"x":{"field":"x","type":"quantitative","scale":{"domain":[0,905],"range":[0,905],"nice":false,"zero":false},"axis":null},"x2":{"field":"x2"},
 "y":{"field":"y","type":"quantitative","scale":{"domain":[0,426],"range":[0,426],"nice":false,"zero":false},"axis":null},"y2":{"field":"y2"}}},
{"data":{"name":"arrowheads"},"mark":{"type":"point","filled":true,"color":"black","size":400,"opacity":1,"strokeWidth":0},
 "encoding":{"x":{"field":"x","type":"quantitative","scale":{"domain":[0,905],"range":[0,905],"nice":false,"zero":false},"axis":null},
 "y":{"field":"y","type":"quantitative","scale":{"domain":[0,426],"range":[0,426],"nice":false,"zero":false},"axis":null},
 "shape":{"field":"dir","type":"nominal","scale":{"domain":["right","down"],"range":["triangle-right","triangle-down"]},"legend":null}}},
{"data":{"name":"diagram_text"},"transform":[{"filter":{"field":"role","oneOf":["heading","uniphasic","biphasic"]}}],
 "mark":{"type":"text","font":"DejaVu Sans","fontSize":28,"align":"left","baseline":"alphabetic"},
 "encoding":{"x":{"field":"x","type":"quantitative","scale":{"domain":[0,905],"range":[0,905],"nice":false,"zero":false},"axis":null},
 "y":{"field":"y","type":"quantitative","scale":{"domain":[0,426],"range":[0,426],"nice":false,"zero":false},"axis":null},
 "text":{"field":"text"},
 "color":{"field":"role","type":"nominal","scale":{"domain":["heading","uniphasic","biphasic"],"range":["#000000","#008000","#ff0000"]},"legend":null}}},
{"data":{"name":"diagram_text"},"transform":[{"filter":{"field":"role","equal":"vs"}}],
 "mark":{"type":"text","font":"DejaVu Sans","fontSize":28,"fontStyle":"italic","align":"left","baseline":"alphabetic","color":"black"},
 "encoding":{"x":{"field":"x","type":"quantitative","scale":{"domain":[0,905],"range":[0,905],"nice":false,"zero":false},"axis":null},
 "y":{"field":"y","type":"quantitative","scale":{"domain":[0,426],"range":[0,426],"nice":false,"zero":false},"axis":null},
 "text":{"field":"text"}}},
{"data":{"name":"diagram_text"},"transform":[{"filter":{"field":"role","equal":"model"}}],
 "mark":{"type":"text","font":"DejaVu Sans","fontSize":28,"fontWeight":"bold","align":"center","baseline":"alphabetic","color":"black"},
 "encoding":{"x":{"field":"x","type":"quantitative","scale":{"domain":[0,905],"range":[0,905],"nice":false,"zero":false},"axis":null},
 "y":{"field":"y","type":"quantitative","scale":{"domain":[0,426],"range":[0,426],"nice":false,"zero":false},"axis":null},
 "text":{"field":"text"}}},
{"data":{"name":"diagram_text"},"transform":[{"filter":{"field":"role","equal":"panel-title"}}],
 "mark":{"type":"text","font":"DejaVu Sans","fontSize":23,"align":"center","baseline":"alphabetic","color":"#000080"},
 "encoding":{"x":{"field":"x","type":"quantitative","scale":{"domain":[0,905],"range":[0,905],"nice":false,"zero":false},"axis":null},
 "y":{"field":"y","type":"quantitative","scale":{"domain":[0,426],"range":[0,426],"nice":false,"zero":false},"axis":null},
 "text":{"field":"text"}}},
{"data":{"name":"diagram_text"},"transform":[{"filter":{"field":"role","equal":"axis-title"}}],
 "mark":{"type":"text","font":"DejaVu Sans","fontSize":23,"angle":270,"align":"center","baseline":"alphabetic","color":"#000080"},
 "encoding":{"x":{"field":"x","type":"quantitative","scale":{"domain":[0,905],"range":[0,905],"nice":false,"zero":false},"axis":null},
 "y":{"field":"y","type":"quantitative","scale":{"domain":[0,426],"range":[0,426],"nice":false,"zero":false},"axis":null},
 "text":{"field":"text"}}},

{"data":{"name":"frame"},"mark":{"type":"rect","fill":"transparent","stroke":"#1a1a1a","strokeWidth":1.2},
 "encoding":{"x":{"datum":0,"type":"quantitative","scale":{"domain":[0,1],"range":[109,226],"nice":false,"zero":false},"axis":null},"x2":{"datum":1},
 "y":{"datum":0,"type":"quantitative","scale":{"domain":[0,10],"range":[270,87],"nice":false,"zero":false},"axis":null},"y2":{"datum":10}}},
{"data":{"name":"lg"},"mark":{"type":"rule","strokeWidth":3},
 "encoding":{"x":{"field":"series","type":"nominal","scale":{"type":"band","domain":["uniphasic","biphasic"],"range":[109,226],"paddingInner":0.19,"paddingOuter":0.17},"axis":null},
 "y":{"field":"q3","type":"quantitative","scale":{"domain":[0,10],"range":[270,87],"nice":false,"zero":false},"axis":null},"y2":{"field":"upper"},
 "color":{"field":"series","type":"nominal","scale":{"domain":["uniphasic","biphasic"],"range":["#006400","#ff0000"]},"legend":null}}},
{"data":{"name":"lg"},"mark":{"type":"rule","strokeWidth":3},
 "encoding":{"x":{"field":"series","type":"nominal","scale":{"type":"band","domain":["uniphasic","biphasic"],"range":[109,226],"paddingInner":0.19,"paddingOuter":0.17},"axis":null},
 "y":{"field":"lower","type":"quantitative","scale":{"domain":[0,10],"range":[270,87],"nice":false,"zero":false},"axis":null},"y2":{"field":"q1"},
 "color":{"field":"series","type":"nominal","scale":{"domain":["uniphasic","biphasic"],"range":["#006400","#ff0000"]},"legend":null}}},
{"data":{"name":"lg"},"mark":{"type":"rect","fill":"white","strokeWidth":3},
 "encoding":{"x":{"field":"series","type":"nominal","scale":{"type":"band","domain":["uniphasic","biphasic"],"range":[109,226],"paddingInner":0.19,"paddingOuter":0.17},"axis":null},
 "y":{"field":"q1","type":"quantitative","scale":{"domain":[0,10],"range":[270,87],"nice":false,"zero":false},"axis":null},"y2":{"field":"q3"},
 "stroke":{"field":"series","type":"nominal","scale":{"domain":["uniphasic","biphasic"],"range":["#006400","#ff0000"]},"legend":null}}},
{"data":{"name":"lg"},"mark":{"type":"tick","orient":"horizontal","size":44,"thickness":3,"opacity":1},
 "encoding":{"x":{"field":"series","type":"nominal","scale":{"type":"band","domain":["uniphasic","biphasic"],"range":[109,226],"paddingInner":0.19,"paddingOuter":0.17},"axis":null},
 "y":{"field":"median","type":"quantitative","scale":{"domain":[0,10],"range":[270,87],"nice":false,"zero":false},"axis":null},
 "color":{"field":"series","type":"nominal","scale":{"domain":["uniphasic","biphasic"],"range":["#006400","#ff0000"]},"legend":null}}},
{"data":{"name":"lg"},"mark":{"type":"tick","orient":"horizontal","size":23,"thickness":3,"opacity":1},
 "encoding":{"x":{"field":"series","type":"nominal","scale":{"type":"band","domain":["uniphasic","biphasic"],"range":[109,226],"paddingInner":0.19,"paddingOuter":0.17},"axis":null},
 "y":{"field":"upper","type":"quantitative","scale":{"domain":[0,10],"range":[270,87],"nice":false,"zero":false},"axis":null},
 "color":{"field":"series","type":"nominal","scale":{"domain":["uniphasic","biphasic"],"range":["#006400","#ff0000"]},"legend":null}}},
{"data":{"name":"lg"},"mark":{"type":"tick","orient":"horizontal","size":23,"thickness":3,"opacity":1},
 "encoding":{"x":{"field":"series","type":"nominal","scale":{"type":"band","domain":["uniphasic","biphasic"],"range":[109,226],"paddingInner":0.19,"paddingOuter":0.17},"axis":null},
 "y":{"field":"lower","type":"quantitative","scale":{"domain":[0,10],"range":[270,87],"nice":false,"zero":false},"axis":null},
 "color":{"field":"series","type":"nominal","scale":{"domain":["uniphasic","biphasic"],"range":["#006400","#ff0000"]},"legend":null}}},

{"data":{"name":"frame"},"mark":{"type":"rect","fill":"transparent","stroke":"#1a1a1a","strokeWidth":1.2},
 "encoding":{"x":{"datum":0,"type":"quantitative","scale":{"domain":[0,1],"range":[325.7,442.7],"nice":false,"zero":false},"axis":null},"x2":{"datum":1},
 "y":{"datum":0,"type":"quantitative","scale":{"domain":[0,10],"range":[401,217.3],"nice":false,"zero":false},"axis":null},"y2":{"datum":10}}},
{"data":{"name":"frame"},"mark":{"type":"rule","color":"#1a1a1a","strokeWidth":1.8},
 "encoding":{"x":{"datum":0.5,"type":"quantitative","scale":{"domain":[0,1],"range":[325.7,442.7],"nice":false,"zero":false},"axis":null},
 "y":{"datum":0,"type":"quantitative","scale":{"domain":[0,10],"range":[401,217.3],"nice":false,"zero":false},"axis":null},"y2":{"datum":10}}},
{"data":{"name":"gross"},"mark":{"type":"rule","strokeWidth":2.5},
 "encoding":{"x":{"field":"group","type":"nominal","scale":{"type":"band","domain":["0-20",">20"],"range":[325.7,442.7],"paddingInner":0,"paddingOuter":0.0714},"axis":null},
 "xOffset":{"field":"series","type":"nominal","scale":{"type":"band","domain":["uniphasic","biphasic"],"paddingInner":0.158,"paddingOuter":0.079}},
 "y":{"field":"q3","type":"quantitative","scale":{"domain":[0,10],"range":[401,217.3],"nice":false,"zero":false},"axis":null},"y2":{"field":"upper"},
 "color":{"field":"series","type":"nominal","scale":{"domain":["uniphasic","biphasic"],"range":["#006400","#ff0000"]},"legend":null}}},
{"data":{"name":"gross"},"mark":{"type":"rule","strokeWidth":2.5},
 "encoding":{"x":{"field":"group","type":"nominal","scale":{"type":"band","domain":["0-20",">20"],"range":[325.7,442.7],"paddingInner":0,"paddingOuter":0.0714},"axis":null},
 "xOffset":{"field":"series","type":"nominal","scale":{"type":"band","domain":["uniphasic","biphasic"],"paddingInner":0.158,"paddingOuter":0.079}},
 "y":{"field":"lower","type":"quantitative","scale":{"domain":[0,10],"range":[401,217.3],"nice":false,"zero":false},"axis":null},"y2":{"field":"q1"},
 "color":{"field":"series","type":"nominal","scale":{"domain":["uniphasic","biphasic"],"range":["#006400","#ff0000"]},"legend":null}}},
{"data":{"name":"gross_out"},"mark":{"type":"point","filled":true,"size":14,"opacity":1},
 "encoding":{"x":{"field":"group","type":"nominal","scale":{"type":"band","domain":["0-20",">20"],"range":[325.7,442.7],"paddingInner":0,"paddingOuter":0.0714},"axis":null},
 "xOffset":{"field":"series","type":"nominal","scale":{"type":"band","domain":["uniphasic","biphasic"],"paddingInner":0.158,"paddingOuter":0.079}},
 "y":{"field":"value","type":"quantitative","scale":{"domain":[0,10],"range":[401,217.3],"nice":false,"zero":false},"axis":null},
 "color":{"field":"series","type":"nominal","scale":{"domain":["uniphasic","biphasic"],"range":["#006400","#ff0000"]},"legend":null}}},
{"data":{"name":"gross"},"mark":{"type":"rect","strokeWidth":2.5},
 "encoding":{"x":{"field":"group","type":"nominal","scale":{"type":"band","domain":["0-20",">20"],"range":[325.7,442.7],"paddingInner":0,"paddingOuter":0.0714},"axis":null},
 "xOffset":{"field":"series","type":"nominal","scale":{"type":"band","domain":["uniphasic","biphasic"],"paddingInner":0.158,"paddingOuter":0.079}},
 "y":{"field":"q1","type":"quantitative","scale":{"domain":[0,10],"range":[401,217.3],"nice":false,"zero":false},"axis":null},"y2":{"field":"q3"},
 "fill":{"field":"group","type":"nominal","scale":{"domain":["0-20",">20"],"range":["#c0c0c0","#ffffff"]},"legend":null},
 "stroke":{"field":"series","type":"nominal","scale":{"domain":["uniphasic","biphasic"],"range":["#006400","#ff0000"]},"legend":null}}},
{"data":{"name":"gross"},"mark":{"type":"tick","orient":"horizontal","size":23,"thickness":2.5,"opacity":1},
 "encoding":{"x":{"field":"group","type":"nominal","scale":{"type":"band","domain":["0-20",">20"],"range":[325.7,442.7],"paddingInner":0,"paddingOuter":0.0714},"axis":null},
 "xOffset":{"field":"series","type":"nominal","scale":{"type":"band","domain":["uniphasic","biphasic"],"paddingInner":0.158,"paddingOuter":0.079}},
 "y":{"field":"median","type":"quantitative","scale":{"domain":[0,10],"range":[401,217.3],"nice":false,"zero":false},"axis":null},
 "color":{"field":"series","type":"nominal","scale":{"domain":["uniphasic","biphasic"],"range":["#006400","#ff0000"]},"legend":null}}},
{"data":{"name":"gross"},"mark":{"type":"tick","orient":"horizontal","size":13,"thickness":2.5,"opacity":1},
 "encoding":{"x":{"field":"group","type":"nominal","scale":{"type":"band","domain":["0-20",">20"],"range":[325.7,442.7],"paddingInner":0,"paddingOuter":0.0714},"axis":null},
 "xOffset":{"field":"series","type":"nominal","scale":{"type":"band","domain":["uniphasic","biphasic"],"paddingInner":0.158,"paddingOuter":0.079}},
 "y":{"field":"upper","type":"quantitative","scale":{"domain":[0,10],"range":[401,217.3],"nice":false,"zero":false},"axis":null},
 "color":{"field":"series","type":"nominal","scale":{"domain":["uniphasic","biphasic"],"range":["#006400","#ff0000"]},"legend":null}}},
{"data":{"name":"gross"},"mark":{"type":"tick","orient":"horizontal","size":13,"thickness":2.5,"opacity":1},
 "encoding":{"x":{"field":"group","type":"nominal","scale":{"type":"band","domain":["0-20",">20"],"range":[325.7,442.7],"paddingInner":0,"paddingOuter":0.0714},"axis":null},
 "xOffset":{"field":"series","type":"nominal","scale":{"type":"band","domain":["uniphasic","biphasic"],"paddingInner":0.158,"paddingOuter":0.079}},
 "y":{"field":"lower","type":"quantitative","scale":{"domain":[0,10],"range":[401,217.3],"nice":false,"zero":false},"axis":null},
 "color":{"field":"series","type":"nominal","scale":{"domain":["uniphasic","biphasic"],"range":["#006400","#ff0000"]},"legend":null}}},
{"data":{"name":"groups"},"mark":{"type":"text","font":"DejaVu Sans","fontSize":22,"align":"center","baseline":"alphabetic","color":"black","dx":-2},
 "encoding":{"x":{"field":"group","type":"nominal","scale":{"type":"band","domain":["0-20",">20"],"range":[325.7,442.7],"paddingInner":0,"paddingOuter":0.0714},"axis":null},
 "y":{"datum":-0.98,"type":"quantitative","scale":{"domain":[0,10],"range":[401,217.3],"nice":false,"zero":false},"axis":null},
 "text":{"field":"group"}}},

{"data":{"name":"frame"},"mark":{"type":"rect","fill":"transparent","stroke":"#1a1a1a","strokeWidth":1.2},
 "encoding":{"x":{"datum":0,"type":"quantitative","scale":{"domain":[0,1],"range":[508.3,625.7],"nice":false,"zero":false},"axis":null},"x2":{"datum":1},
 "y":{"datum":-0.054,"type":"quantitative","scale":{"domain":[-0.054,1.301],"range":[401.7,217.3],"nice":false,"zero":false},"axis":null},"y2":{"datum":1.301}}},
{"data":{"name":"frame"},"mark":{"type":"rule","color":"#1a1a1a","strokeWidth":1.8},
 "encoding":{"x":{"datum":0.5,"type":"quantitative","scale":{"domain":[0,1],"range":[508.3,625.7],"nice":false,"zero":false},"axis":null},
 "y":{"datum":-0.054,"type":"quantitative","scale":{"domain":[-0.054,1.301],"range":[401.7,217.3],"nice":false,"zero":false},"axis":null},"y2":{"datum":1.301}}},
{"data":{"name":"frame"},"mark":{"type":"rule","color":"black","strokeWidth":2,"strokeDash":[9,5]},
 "encoding":{"x":{"datum":0,"type":"quantitative","scale":{"domain":[0,1],"range":[508.3,625.7],"nice":false,"zero":false},"axis":null},"x2":{"datum":1},
 "y":{"datum":1,"type":"quantitative","scale":{"domain":[-0.054,1.301],"range":[401.7,217.3],"nice":false,"zero":false},"axis":null}}},
{"data":{"name":"ratio"},"mark":{"type":"rule","strokeWidth":2.5},
 "encoding":{"x":{"field":"group","type":"nominal","scale":{"type":"band","domain":["0-20",">20"],"range":[508.3,625.7],"paddingInner":0,"paddingOuter":0.0714},"axis":null},
 "xOffset":{"field":"series","type":"nominal","scale":{"type":"band","domain":["uniphasic","biphasic"],"paddingInner":0.158,"paddingOuter":0.079}},
 "y":{"field":"q3","type":"quantitative","scale":{"domain":[-0.054,1.301],"range":[401.7,217.3],"nice":false,"zero":false},"axis":null},"y2":{"field":"upper"},
 "color":{"field":"series","type":"nominal","scale":{"domain":["uniphasic","biphasic"],"range":["#006400","#ff0000"]},"legend":null}}},
{"data":{"name":"ratio_out"},"mark":{"type":"point","filled":true,"size":15,"opacity":1},
 "encoding":{"x":{"field":"group","type":"nominal","scale":{"type":"band","domain":["0-20",">20"],"range":[508.3,625.7],"paddingInner":0,"paddingOuter":0.0714},"axis":null},
 "xOffset":{"field":"series","type":"nominal","scale":{"type":"band","domain":["uniphasic","biphasic"],"paddingInner":0.158,"paddingOuter":0.079}},
 "y":{"field":"value","type":"quantitative","scale":{"domain":[-0.054,1.301],"range":[401.7,217.3],"nice":false,"zero":false},"axis":null},
 "color":{"field":"series","type":"nominal","scale":{"domain":["uniphasic","biphasic"],"range":["#006400","#ff0000"]},"legend":null}}},
{"data":{"name":"ratio"},"mark":{"type":"rect","fill":"white","strokeWidth":3},
 "encoding":{"x":{"field":"group","type":"nominal","scale":{"type":"band","domain":["0-20",">20"],"range":[508.3,625.7],"paddingInner":0,"paddingOuter":0.0714},"axis":null},
 "xOffset":{"field":"series","type":"nominal","scale":{"type":"band","domain":["uniphasic","biphasic"],"paddingInner":0.158,"paddingOuter":0.079}},
 "y":{"field":"q1","type":"quantitative","scale":{"domain":[-0.054,1.301],"range":[401.7,217.3],"nice":false,"zero":false},"axis":null},"y2":{"field":"q3"},
 "stroke":{"field":"series","type":"nominal","scale":{"domain":["uniphasic","biphasic"],"range":["#006400","#ff0000"]},"legend":null}}},
{"data":{"name":"ratio"},"mark":{"type":"tick","orient":"horizontal","size":23,"thickness":2.5,"opacity":1},
 "encoding":{"x":{"field":"group","type":"nominal","scale":{"type":"band","domain":["0-20",">20"],"range":[508.3,625.7],"paddingInner":0,"paddingOuter":0.0714},"axis":null},
 "xOffset":{"field":"series","type":"nominal","scale":{"type":"band","domain":["uniphasic","biphasic"],"paddingInner":0.158,"paddingOuter":0.079}},
 "y":{"field":"median","type":"quantitative","scale":{"domain":[-0.054,1.301],"range":[401.7,217.3],"nice":false,"zero":false},"axis":null},
 "color":{"field":"series","type":"nominal","scale":{"domain":["uniphasic","biphasic"],"range":["#006400","#ff0000"]},"legend":null}}},
{"data":{"name":"ratio"},"mark":{"type":"tick","orient":"horizontal","size":13,"thickness":2.5,"opacity":1},
 "encoding":{"x":{"field":"group","type":"nominal","scale":{"type":"band","domain":["0-20",">20"],"range":[508.3,625.7],"paddingInner":0,"paddingOuter":0.0714},"axis":null},
 "xOffset":{"field":"series","type":"nominal","scale":{"type":"band","domain":["uniphasic","biphasic"],"paddingInner":0.158,"paddingOuter":0.079}},
 "y":{"field":"upper","type":"quantitative","scale":{"domain":[-0.054,1.301],"range":[401.7,217.3],"nice":false,"zero":false},"axis":null},
 "color":{"field":"series","type":"nominal","scale":{"domain":["uniphasic","biphasic"],"range":["#006400","#ff0000"]},"legend":null}}},
{"data":{"name":"ratio_star"},"mark":{"type":"point","filled":true,"color":"#0000ff","opacity":1,"size":1500,"strokeWidth":0,
 "shape":"M0,-1L0.289,-0.5L0.866,-0.5L0.577,0L0.866,0.5L0.289,0.5L0,1L-0.289,0.5L-0.866,0.5L-0.577,0L-0.866,-0.5L-0.289,-0.5Z"},
 "encoding":{"x":{"field":"group","type":"nominal","bandPosition":0.56,"scale":{"type":"band","domain":["0-20",">20"],"range":[508.3,625.7],"paddingInner":0,"paddingOuter":0.0714},"axis":null},
 "y":{"field":"ratio","type":"quantitative","scale":{"domain":[-0.054,1.301],"range":[401.7,217.3],"nice":false,"zero":false},"axis":null}}},
{"data":{"name":"groups"},"mark":{"type":"text","font":"DejaVu Sans","fontSize":22,"align":"center","baseline":"alphabetic","color":"black","dx":-2},
 "encoding":{"x":{"field":"group","type":"nominal","scale":{"type":"band","domain":["0-20",">20"],"range":[508.3,625.7],"paddingInner":0,"paddingOuter":0.0714},"axis":null},
 "y":{"datum":-0.181,"type":"quantitative","scale":{"domain":[-0.054,1.301],"range":[401.7,217.3],"nice":false,"zero":false},"axis":null},
 "text":{"field":"group"}}},

{"data":{"name":"frame"},"mark":{"type":"rect","fill":"transparent","stroke":"#1a1a1a","strokeWidth":1.2},
 "encoding":{"x":{"datum":-0.113,"type":"quantitative","scale":{"domain":[-0.113,4.47],"range":[638.3,776.5],"nice":false,"zero":false},"axis":null},"x2":{"datum":4.47},
 "y":{"datum":-0.253,"type":"quantitative","scale":{"domain":[-0.253,5.81],"range":[259.7,82],"nice":false,"zero":false},"axis":null},"y2":{"datum":5.81}}},
{"data":{"name":"titer_yticks"},"mark":{"type":"rule","color":"#1a1a1a","strokeWidth":1.2},
 "encoding":{"x":{"datum":-0.113,"type":"quantitative","scale":{"domain":[-0.113,4.47],"range":[638.3,776.5],"nice":false,"zero":false},"axis":null},"x2":{"datum":-0.245},
 "y":{"field":"v","type":"quantitative","scale":{"domain":[-0.253,5.81],"range":[259.7,82],"nice":false,"zero":false},"axis":null}}},
{"data":{"name":"titer_xticks"},"mark":{"type":"rule","color":"#1a1a1a","strokeWidth":1.2},
 "encoding":{"x":{"field":"v","type":"quantitative","scale":{"domain":[-0.113,4.47],"range":[638.3,776.5],"nice":false,"zero":false},"axis":null},
 "y":{"datum":-0.253,"type":"quantitative","scale":{"domain":[-0.253,5.81],"range":[259.7,82],"nice":false,"zero":false},"axis":null},"y2":{"datum":-0.46}}},
{"data":{"name":"titer"},"transform":[{"filter":{"field":"kind","equal":"uniphasic"}}],
 "mark":{"type":"line","strokeWidth":1.6,"interpolate":"monotone","color":"#006400"},
 "encoding":{"x":{"field":"t","type":"quantitative","scale":{"domain":[-0.113,4.47],"range":[638.3,776.5],"nice":false,"zero":false},"axis":null},
 "y":{"field":"titer","type":"quantitative","scale":{"domain":[-0.253,5.81],"range":[259.7,82],"nice":false,"zero":false},"axis":null},
 "detail":{"field":"sim","type":"nominal"}}},
{"data":{"name":"titer"},"transform":[{"filter":{"field":"kind","equal":"biphasic"}}],
 "mark":{"type":"line","strokeWidth":1.7,"interpolate":"monotone","color":"#ff0000"},
 "encoding":{"x":{"field":"t","type":"quantitative","scale":{"domain":[-0.113,4.47],"range":[638.3,776.5],"nice":false,"zero":false},"axis":null},
 "y":{"field":"titer","type":"quantitative","scale":{"domain":[-0.253,5.81],"range":[259.7,82],"nice":false,"zero":false},"axis":null},
 "detail":{"field":"sim","type":"nominal"}}},
{"data":{"name":"titer"},"transform":[{"filter":{"field":"kind","equal":"biphasic peaked"}}],
 "mark":{"type":"line","strokeWidth":1.3,"interpolate":"monotone","color":"#a00000"},
 "encoding":{"x":{"field":"t","type":"quantitative","scale":{"domain":[-0.113,4.47],"range":[638.3,776.5],"nice":false,"zero":false},"axis":null},
 "y":{"field":"titer","type":"quantitative","scale":{"domain":[-0.253,5.81],"range":[259.7,82],"nice":false,"zero":false},"axis":null},
 "detail":{"field":"sim","type":"nominal"}}},

{"data":{"name":"frame"},"mark":{"type":"rect","fill":"transparent","stroke":"#1a1a1a","strokeWidth":1.2},
 "encoding":{"x":{"datum":0,"type":"quantitative","scale":{"domain":[0,1],"range":[785,901.7],"nice":false,"zero":false},"axis":null},"x2":{"datum":1},
 "y":{"datum":0,"type":"quantitative","scale":{"domain":[0,10],"range":[263,80],"nice":false,"zero":false},"axis":null},"y2":{"datum":10}}},
{"data":{"name":"peak"},"mark":{"type":"rule","strokeWidth":3},
 "encoding":{"x":{"field":"series","type":"nominal","scale":{"type":"band","domain":["uniphasic","biphasic"],"range":[785,901.7],"paddingInner":0.2,"paddingOuter":0.16},"axis":null},
 "y":{"field":"q3","type":"quantitative","scale":{"domain":[0,10],"range":[263,80],"nice":false,"zero":false},"axis":null},"y2":{"field":"upper"},
 "color":{"field":"series","type":"nominal","scale":{"domain":["uniphasic","biphasic"],"range":["#006400","#ff0000"]},"legend":null}}},
{"data":{"name":"peak"},"mark":{"type":"rect","fill":"white","strokeWidth":3},
 "encoding":{"x":{"field":"series","type":"nominal","scale":{"type":"band","domain":["uniphasic","biphasic"],"range":[785,901.7],"paddingInner":0.2,"paddingOuter":0.16},"axis":null},
 "y":{"field":"q1","type":"quantitative","scale":{"domain":[0,10],"range":[263,80],"nice":false,"zero":false},"axis":null},"y2":{"field":"q3"},
 "stroke":{"field":"series","type":"nominal","scale":{"domain":["uniphasic","biphasic"],"range":["#006400","#ff0000"]},"legend":null}}},
{"data":{"name":"peak"},"mark":{"type":"tick","orient":"horizontal","size":44,"thickness":3,"opacity":1},
 "encoding":{"x":{"field":"series","type":"nominal","scale":{"type":"band","domain":["uniphasic","biphasic"],"range":[785,901.7],"paddingInner":0.2,"paddingOuter":0.16},"axis":null},
 "y":{"field":"median","type":"quantitative","scale":{"domain":[0,10],"range":[263,80],"nice":false,"zero":false},"axis":null},
 "color":{"field":"series","type":"nominal","scale":{"domain":["uniphasic","biphasic"],"range":["#006400","#ff0000"]},"legend":null}}},
{"data":{"name":"peak"},"mark":{"type":"tick","orient":"horizontal","size":24,"thickness":3,"opacity":1},
 "encoding":{"x":{"field":"series","type":"nominal","scale":{"type":"band","domain":["uniphasic","biphasic"],"range":[785,901.7],"paddingInner":0.2,"paddingOuter":0.16},"axis":null},
 "y":{"field":"upper","type":"quantitative","scale":{"domain":[0,10],"range":[263,80],"nice":false,"zero":false},"axis":null},
 "color":{"field":"series","type":"nominal","scale":{"domain":["uniphasic","biphasic"],"range":["#006400","#ff0000"]},"legend":null}}},
{"data":{"name":"peak_star"},"mark":{"type":"point","filled":true,"color":"#0000ff","opacity":1,"size":1500,"strokeWidth":0,
 "shape":"M0,-1L0.289,-0.5L0.866,-0.5L0.577,0L0.866,0.5L0.289,0.5L0,1L-0.289,0.5L-0.866,0.5L-0.577,0L-0.866,-0.5L-0.289,-0.5Z"},
 "encoding":{"x":{"field":"series","type":"nominal","bandPosition":1.23,"scale":{"type":"band","domain":["uniphasic","biphasic"],"range":[785,901.7],"paddingInner":0.2,"paddingOuter":0.16},"axis":null},
 "y":{"field":"peak","type":"quantitative","scale":{"domain":[0,10],"range":[263,80],"nice":false,"zero":false},"axis":null}}}
],
"resolve":{"scale":{"x":"independent","y":"independent","xOffset":"independent","color":"independent","stroke":"independent","fill":"independent","shape":"independent"}}
}
